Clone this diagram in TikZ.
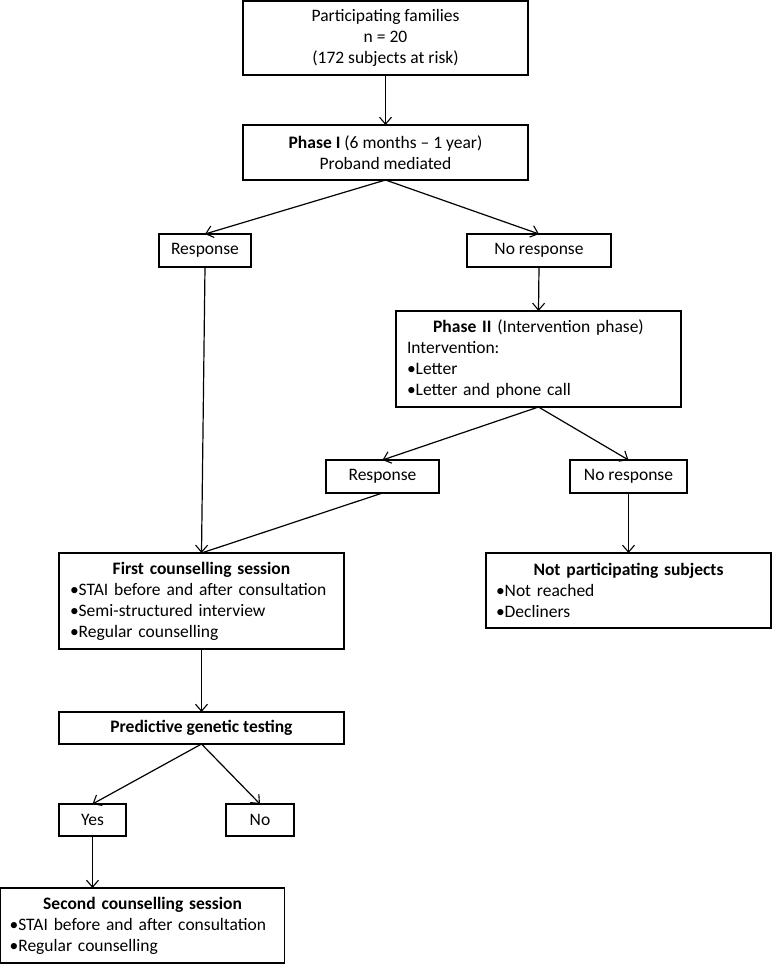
\documentclass[tikz,border=0pt]{standalone}
\usepackage{fontspec}
\setmainfont{Carlito}
\usetikzlibrary{arrows.meta}
\begin{document}
\begin{tikzpicture}[x=1pt,y=-1pt,
  box/.style={draw=black,line width=1.2pt,inner sep=0pt,outer sep=0pt,align=center,font=\fontsize{17.5}{21}\selectfont},
  lbox/.style={draw=black,line width=1.2pt,inner sep=0pt,outer sep=0pt,font=\fontsize{17.5}{21}\selectfont},
  arr/.style={line width=1.2pt,-{Straight Barb[length=7pt,width=12pt,line width=1.1pt]}},
  ln/.style={line width=1.2pt}]
\useasboundingbox (0,0) rectangle (773,964);
\node[box,minimum width=285pt,minimum height=74pt] (b1) at (385.5,38) {Participating families\\n = 20\\(172 subjects at risk)};
\node[box,minimum width=285pt,minimum height=55pt] (p1) at (385.5,152.5) {\textbf{Phase I} (6 months – 1 year)\\Proband mediated};
\node[box,minimum width=92pt,minimum height=33pt] (r1) at (205,250.5) {Response};
\node[box,minimum width=144pt,minimum height=33pt] (n1) at (539,250.5) {No response};
\node[lbox,minimum width=285pt,minimum height=96pt,text width=263pt] (p2) at (538.5,359) {\centering\textbf{Phase II} (Intervention phase)\par\raggedright Intervention:\\•Letter\\•Letter and phone call\par};
\node[box,minimum width=113pt,minimum height=33pt] (r2) at (382.5,476.5) {Response};
\node[box,minimum width=117pt,minimum height=33pt] (n2) at (628.5,476.5) {No response};
\node[lbox,minimum width=285pt,minimum height=96pt,text width=263pt] (fc) at (201.5,601) {\centering\textbf{First counselling session}\par\raggedright •STAI before and after consultation\\•Semi-structured interview\\•Regular counselling\par};
\node[lbox,minimum width=285pt,minimum height=75pt,text width=265pt] (np) at (628.5,590.5) {\centering\textbf{Not participating subjects}\par\raggedright •Not reached\\•Decliners\par};
\node[box,minimum width=285pt,minimum height=32pt] (pg) at (201.5,728) {\textbf{Predictive genetic testing}};
\node[box,minimum width=67pt,minimum height=32pt] (yes) at (92.5,820) {Yes};
\node[box,minimum width=68pt,minimum height=32pt] (no) at (260,820) {No};
\node[lbox,minimum width=284pt,minimum height=75pt,text width=266pt] (sc) at (142.6,925.5) {\centering\textbf{Second counselling session}\par\raggedright •STAI before and after consultation\\•Regular counselling\par};
\draw[arr] (b1.south) -- (p1.north);
\draw[arr] (p1.south) -- (r1.north);
\draw[arr] (p1.south) -- (n1.north);
\draw[arr] (r1.south) -- (fc.north);
\draw[ln] (r2.south) -- (fc.north);
\draw[arr] (n1.south) -- (p2.north);
\draw[arr] (p2.south) -- (r2.north);
\draw[arr] (p2.south) -- (n2.north);
\draw[arr] (n2.south) -- (np.north);
\draw[arr] (fc.south) -- (pg.north);
\draw[arr] (pg.south) -- (yes.north);
\draw[arr] (pg.south) -- (no.north);
\draw[arr] (yes.south) -- (yes.south |- sc.north);
\end{tikzpicture}
\end{document}
